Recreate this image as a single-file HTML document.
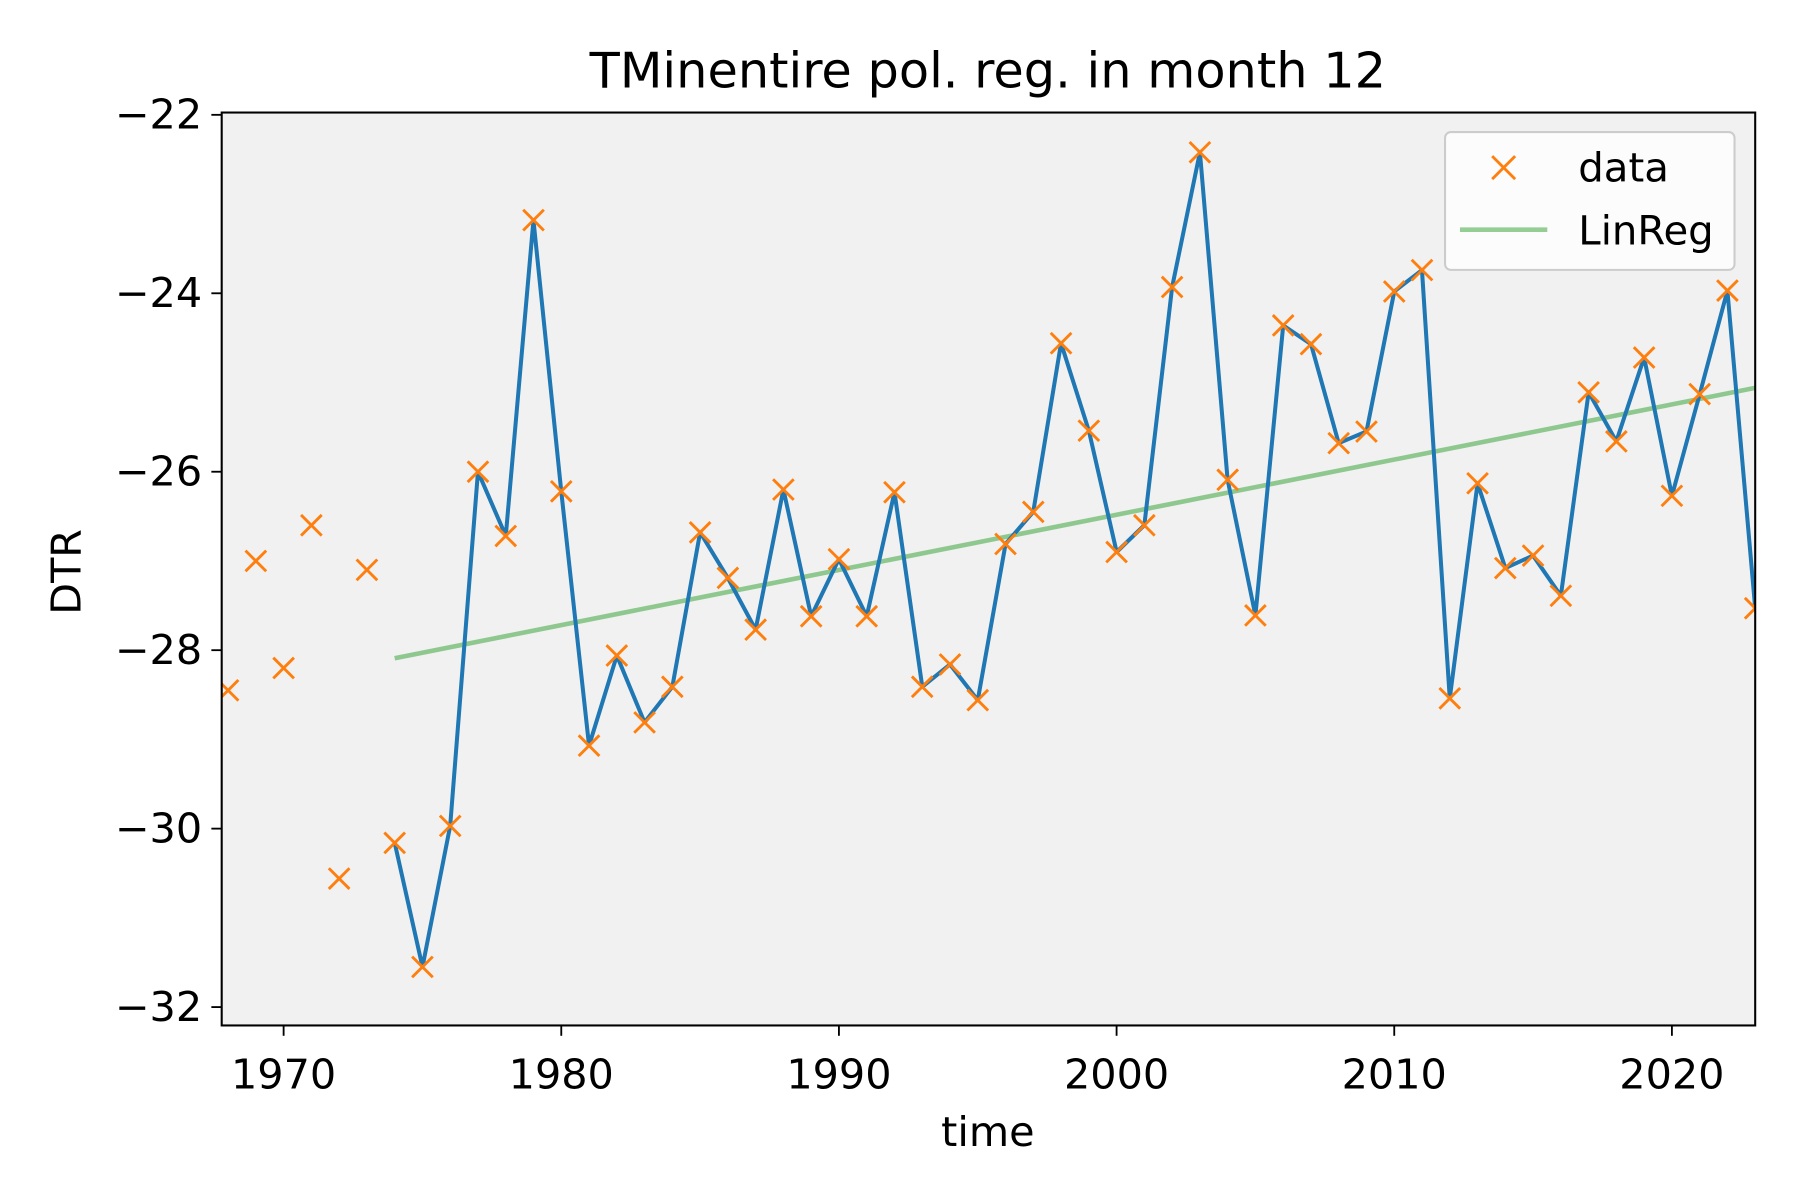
<!DOCTYPE html>
<html><head><meta charset="utf-8"><style>
html,body{margin:0;padding:0;background:#fff;}
svg{display:block;}
text{font-family:"DejaVu Sans","Liberation Sans",sans-serif;fill:#000;}
</style></head><body>
<svg id="chart" width="1800" height="1200" viewBox="0 0 1567 1045" preserveAspectRatio="none" xmlns="http://www.w3.org/2000/svg">
<rect width="1567" height="1045" fill="#fff"/>
<rect x="193" y="98" width="1335" height="795" fill="#f1f1f1"/>
<g id="lines"></g>
<g id="axes"></g>
<rect x="193" y="98" width="1335" height="795" fill="none" stroke="#000" stroke-width="1.8"/>
<text x="860" y="76" font-size="43" text-anchor="middle">TMinentire pol. reg. in month 12</text>
<text x="860" y="998" font-size="36" text-anchor="middle">time</text>
<text transform="translate(70,498) rotate(-90)" font-size="36" text-anchor="middle">DTR</text>
<g>
<rect x="1258" y="115" width="252" height="120" rx="5" fill="#fff" fill-opacity="0.8" stroke="#ccc" stroke-width="1.8"/>
<g>
<path d="M1299,136 l20,20 M1319,136 l-20,20" stroke="#ff7f0e" stroke-width="2.5"/>
<text x="1374" y="158" font-size="35">data</text></g>
<g>
<line x1="1271" y1="200" x2="1347" y2="200" stroke="#2ca02c" stroke-opacity="0.5" stroke-width="4"/>
<text x="1374" y="213" font-size="35">LinReg</text></g>
</g>
</svg>
<script>
const years = [];
for (let y = 1968; y <= 2023; y++) years.push(y);
const dtrValues = [-28.45,-27.0,-28.2,-26.6,-30.56,-27.1,-30.16,-31.55,-29.97,-26.0,-26.72,-23.18,-26.22,-29.07,-28.06,-28.81,-28.41,-26.68,-27.19,-27.77,-26.2,-27.62,-26.98,-27.62,-26.23,-28.41,-28.16,-28.56,-26.81,-26.45,-24.56,-25.54,-26.9,-26.6,-23.93,-22.42,-26.09,-27.61,-24.36,-24.57,-25.68,-25.55,-23.98,-23.74,-28.54,-26.13,-27.08,-26.94,-27.39,-25.11,-25.66,-24.72,-26.27,-25.13,-23.97,-27.53];
const lineStartYear = [1974];
const regYears = [1974, 2023];
const regValues = [-28.09, -25.06];
const xTicks = [1970,1980,1990,2000,2010,2020];
const yTicks = [-22,-24,-26,-28,-30,-32];

const NS = "http://www.w3.org/2000/svg";
const L=193,R=1528,T=98,B=893;
const xMin=1967.77,xMax=2023;
const X = v => L + (v - xMin) / (xMax - xMin) * (R - L);
const Y = v => 100 + (-22 - v) * 77.7;
const lines = document.getElementById('lines');
const axes = document.getElementById('axes');
function mk(tag, attrs, parent){const e=document.createElementNS(NS,tag);for(const k in attrs)e.setAttribute(k,attrs[k]);parent.appendChild(e);return e;}

const clip = mk('clipPath',{id:'pc'},lines);
mk('rect',{x:L,y:T,width:R-L,height:B-T},clip);
const g = mk('g',{'clip-path':'url(#pc)'},lines);

const reg = mk('line',{x1:X(regYears[0]),y1:Y(regValues[0]),x2:X(regYears[1]),y2:Y(regValues[1]),stroke:'#2ca02c','stroke-opacity':0.5,'stroke-width':4},g);



let pts=[];
years.forEach((yr,i)=>{ if(yr>=lineStartYear[0]) pts.push(X(yr).toFixed(1)+','+Y(dtrValues[i]).toFixed(1)); });
const pl = mk('polyline',{points:pts.join(' '),fill:'none',stroke:'#1f77b4','stroke-width':3.5,'stroke-linejoin':'round'},g);



years.forEach((yr,i)=>{
  const cx=X(yr), cy=Y(dtrValues[i]);
  const p = mk('path',{d:`M${cx-9},${cy-9} l18,18 M${cx+9},${cy-9} l-18,18`,stroke:'#ff7f0e','stroke-width':2.5},g);
  
  
});

xTicks.forEach(t=>{
  const x=X(t);
  mk('line',{x1:x,y1:B,x2:x,y2:B+9,stroke:'#000','stroke-width':1.6},axes);
  const tx = mk('text',{x:x,y:B+55,'font-size':36,'text-anchor':'middle'},axes);
  tx.textContent=t;
  
  
});
yTicks.forEach(t=>{
  const y=Y(t);
  mk('line',{x1:L-9,y1:y,x2:L,y2:y,stroke:'#000','stroke-width':1.6},axes);
  const tx = mk('text',{x:L-17,y:y+12,'font-size':36,'text-anchor':'end'},axes);
  tx.textContent='\u2212'+Math.abs(t);
  
  
});
</script>
</body></html>
